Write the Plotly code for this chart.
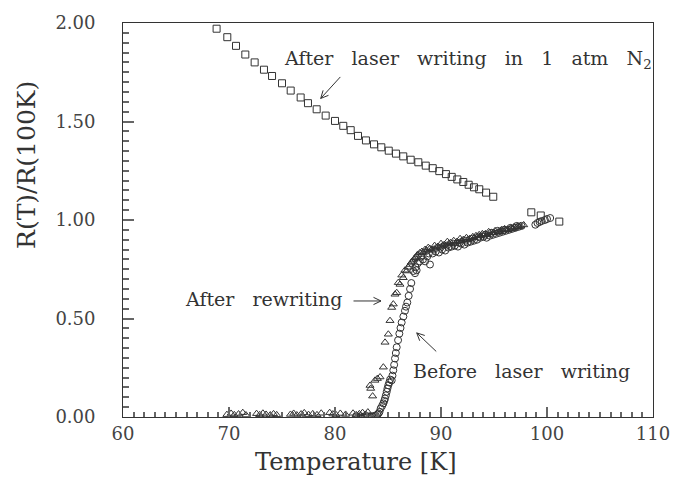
import math
import plotly.graph_objects as go

# ---------------- data ----------------
sq_T = [68.83, 69.84, 70.66, 71.54, 72.42, 73.30, 74.06, 75.00, 75.82, 76.76,
        77.45, 78.27, 79.12, 80.00, 80.78, 81.48, 82.17, 82.92, 83.68, 84.37,
        85.07, 85.75, 86.44, 87.14, 87.86, 88.56, 89.22, 89.84, 90.47, 91.01,
        91.54, 92.10, 92.61, 93.11, 93.61, 94.25, 94.93, 98.52, 99.41, 101.16]
sq_R = [1.971, 1.928, 1.884, 1.840, 1.800, 1.763, 1.731, 1.694, 1.657, 1.622,
        1.593, 1.562, 1.530, 1.503, 1.478, 1.456, 1.427, 1.404, 1.384, 1.369,
        1.352, 1.337, 1.323, 1.306, 1.293, 1.276, 1.263, 1.248, 1.233, 1.219,
        1.206, 1.193, 1.179, 1.166, 1.156, 1.139, 1.118, 1.039, 1.023, 0.992]

ci_T = [82.0, 82.4, 82.8, 83.1, 83.3, 83.5, 83.7, 83.85, 84.0, 84.1,
        84.2, 84.31, 84.45, 84.56, 84.65, 84.72, 84.80, 84.88, 84.95, 85.03,
        85.12, 85.2, 85.35, 85.42, 85.50, 85.58, 85.66, 85.74, 85.82, 85.95,
        86.07, 86.18, 86.29, 86.45, 86.60, 86.70, 86.82, 86.95, 87.08, 87.20,
        87.39, 87.55, 87.6, 87.7, 87.8, 88.0, 88.3, 88.5, 88.7, 88.96,
        89.2, 89.5, 89.8, 90.1, 90.4, 90.7, 91.0, 91.3, 91.6, 91.9,
        92.2, 92.5, 92.8, 93.1, 93.4, 93.7, 94.0, 94.3, 94.6, 94.9,
        95.2, 95.5, 95.8, 96.1, 96.4, 96.7, 97.0, 97.3, 97.6,
        88.15, 88.85, 89.35, 89.95, 90.55, 91.15, 91.75, 92.35, 92.95, 93.55,
        94.15, 94.75, 95.35, 95.95, 96.55, 97.15,
        98.9, 99.1, 99.3, 99.5, 99.8, 100.0, 100.3]
ci_R = [0.005, 0.003, 0.004, 0.002, 0.004, 0.003, 0.005, 0.008, 0.012, 0.018,
        0.026, 0.044, 0.057, 0.069, 0.082, 0.094, 0.110, 0.128, 0.145, 0.161,
        0.175, 0.190, 0.186, 0.210, 0.237, 0.265, 0.297, 0.325, 0.354, 0.390,
        0.423, 0.452, 0.480, 0.510, 0.539, 0.560, 0.581, 0.615, 0.650, 0.680,
        0.741, 0.730, 0.760, 0.745, 0.780, 0.790, 0.800, 0.790, 0.815, 0.774,
        0.830, 0.840, 0.835, 0.850, 0.845, 0.860, 0.865, 0.870, 0.865, 0.880,
        0.875, 0.885, 0.890, 0.895, 0.900, 0.910, 0.915, 0.910, 0.920, 0.925,
        0.930, 0.935, 0.940, 0.945, 0.950, 0.955, 0.960, 0.965, 0.970,
        0.815, 0.830, 0.850, 0.860, 0.870, 0.880, 0.885, 0.895, 0.905, 0.915,
        0.925, 0.935, 0.945, 0.950, 0.960, 0.970,
        0.976, 0.985, 0.990, 0.995, 1.000, 1.005, 1.010]

tr_T = [69.8, 70.2, 70.5, 70.9, 71.3, 71.6, 72.6, 72.9, 73.2, 73.5,
        73.9, 74.2, 74.5, 75.8, 76.1, 76.4, 76.8, 77.1, 77.5, 77.9,
        78.3, 78.7, 79.5, 79.8, 80.1, 80.5, 81.0, 81.7, 82.0, 82.3,
        82.6, 82.9, 83.1, 83.3, 83.37, 83.55, 83.77, 84.0, 84.25, 84.56,
        84.72, 85.03, 85.19, 85.35, 85.5, 85.66, 85.82, 85.97, 86.13, 86.44,
        86.76, 87.08, 87.3, 87.55, 87.8, 88.0, 88.2, 88.5, 88.8, 89.1,
        89.4, 89.7, 90.0, 90.3, 90.6, 90.9, 91.2, 91.5, 91.8, 92.1,
        92.4, 92.7, 93.0, 93.3, 93.6, 93.9, 94.2, 94.5, 94.8, 95.1,
        95.4, 95.7, 96.0, 96.3, 96.6, 96.9, 97.2, 97.5, 97.8,
        86.3, 86.6, 86.9, 87.2, 87.45, 87.7, 88.35, 88.65, 88.95, 89.55,
        90.15, 90.75, 91.35, 91.95, 92.55, 93.15, 93.75, 94.35, 94.95, 95.55,
        96.15, 96.75, 97.35]
tr_R = [0.012, 0.018, 0.011, 0.015, 0.022, 0.010, 0.017, 0.011, 0.019, 0.013,
        0.010, 0.016, 0.011, 0.013, 0.018, 0.010, 0.015, 0.021, 0.012, 0.016,
        0.011, 0.019, 0.022, 0.015, 0.011, 0.018, 0.013, 0.019, 0.011, 0.016,
        0.022, 0.013, 0.025, 0.160, 0.145, 0.106, 0.186, 0.195, 0.203, 0.253,
        0.379, 0.420, 0.489, 0.556, 0.573, 0.623, 0.631, 0.682, 0.673, 0.707,
        0.741, 0.774, 0.790, 0.808, 0.825, 0.833, 0.840, 0.850, 0.860, 0.850,
        0.870, 0.865, 0.880, 0.875, 0.890, 0.885, 0.895, 0.890, 0.905, 0.900,
        0.910, 0.905, 0.915, 0.920, 0.925, 0.930, 0.930, 0.940, 0.935, 0.945,
        0.940, 0.950, 0.955, 0.950, 0.960, 0.965, 0.965, 0.970, 0.975,
        0.720, 0.745, 0.760, 0.785, 0.800, 0.815, 0.835, 0.845, 0.855, 0.860,
        0.870, 0.880, 0.880, 0.895, 0.900, 0.910, 0.920, 0.925, 0.935, 0.940,
        0.950, 0.955, 0.965]

INK = "#333333"
TICK = "#666666"
FONT = "DejaVu Serif"
SP = "\u00a0\u00a0\u00a0"  # wide word spacing as in the reference

fig = go.Figure()
fig.add_trace(go.Scatter(x=sq_T, y=sq_R, mode="markers",
                         marker=dict(symbol="square-open", size=7, color=INK, line=dict(width=1, color=INK))))
fig.add_trace(go.Scatter(x=ci_T, y=ci_R, mode="markers",
                         marker=dict(symbol="circle-open", size=7, color=INK, line=dict(width=1, color=INK))))
fig.add_trace(go.Scatter(x=tr_T, y=tr_R, mode="markers",
                         marker=dict(symbol="triangle-up-open", size=7, color=INK, line=dict(width=1, color=INK))))

# ---------------- annotations ----------------
texts = [
    (SP.join(["After", "laser", "writing", "in", "1", "atm", "N<sub>2</sub>"]), 92.5, 1.814),
    (SP.join(["After", "rewriting"]), 73.25, 0.60),
    (SP.join(["Before", "laser", "writing"]), 97.59, 0.232),
]
for t, x, y in texts:
    fig.add_annotation(x=x, y=y, text=t, showarrow=False, xanchor="center", yanchor="middle",
                       font=dict(family=FONT, size=19, color=INK))

# arrows: (head x, head y, tail offset ax, ay in px)
arrows = [(78.65, 1.617, 21, -23), (84.34, 0.589, -29, 0), (87.71, 0.427, 21, 20)]
for hx, hy, ax, ay in arrows:
    fig.add_annotation(x=hx, y=hy, ax=ax, ay=ay, text="", showarrow=True, arrowhead=0,
                       arrowwidth=1, arrowcolor=INK)
    L = math.hypot(ax, ay)
    ux, uy = ax / L, ay / L
    for ang in (0.45, -0.45):
        bx = (ux * math.cos(ang) - uy * math.sin(ang)) * 10
        by = (ux * math.sin(ang) + uy * math.cos(ang)) * 10
        fig.add_annotation(x=hx, y=hy, ax=bx, ay=by, text="", showarrow=True, arrowhead=0,
                           arrowwidth=1, arrowcolor=INK)

# axis titles as annotations (offset like the reference)
fig.add_annotation(x=-0.181, y=0.64, xref="paper", yref="paper", text="R(T)/R(100K)",
                   textangle=-90, showarrow=False, xanchor="center", yanchor="middle",
                   font=dict(family=FONT, size=25, color=INK))
fig.add_annotation(x=0.44, y=-0.113, xref="paper", yref="paper", text="Temperature [K]",
                   showarrow=False, xanchor="center", yanchor="middle",
                   font=dict(family=FONT, size=24, color=INK))

fig.update_xaxes(range=[60, 110], dtick=10, ticks="inside", ticklen=10, tickcolor=TICK, tickwidth=2,
                 showline=True, linecolor=INK, mirror=True, showgrid=False, layer="above traces",
                 tickfont=dict(family=FONT, size=18, color="#444444"),
                 minor=dict(dtick=1, ticks="inside", ticklen=5, tickcolor=TICK, tickwidth=2,
                            showgrid=False))
fig.update_yaxes(range=[0, 2], dtick=0.5, ticks="inside", ticklen=11, tickcolor=TICK, tickwidth=2,
                 showline=True, linecolor=INK, mirror=True, showgrid=False, layer="above traces",
                 tickformat=".2f", ticksuffix="\u00a0\u00a0\u00a0\u00a0",
                 tickfont=dict(family=FONT, size=18, color="#444444"),
                 minor=dict(dtick=0.05, ticks="inside", ticklen=6, tickcolor=TICK, tickwidth=2,
                            showgrid=False))

fig.update_layout(template="simple_white", width=689, height=493, showlegend=False,
                  margin=dict(l=123, r=36, t=20, b=76))
fig.write_html("out.html", config={"displayModeBar": False},
               post_script="document.body.style.margin='0';")
